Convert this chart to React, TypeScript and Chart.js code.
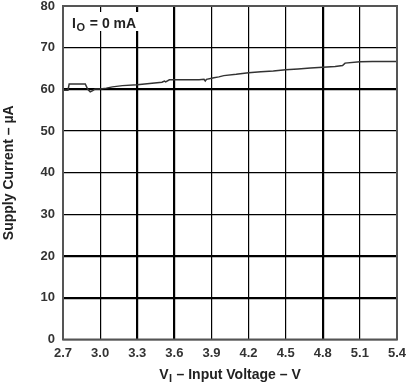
import React, { useEffect, useRef } from "react";
import { Chart, registerables } from "chart.js";

Chart.register(...registerables);

const voltage = [
  2.70, 2.74, 2.75, 2.88, 2.90, 2.92, 2.94, 2.96, 3.00, 3.05, 3.10, 3.18, 3.30, 3.40, 3.50, 3.52, 3.53, 3.56,
  3.60, 3.70, 3.80, 3.84, 3.85, 3.86, 3.92, 3.96, 4.00, 4.10, 4.20, 4.30, 4.40, 4.50, 4.60, 4.70, 4.80,
  4.90, 4.96, 4.98, 5.10, 5.20, 5.40,
];
const supplyCurrent = [
  59.8, 59.8, 61.3, 61.3, 60.0, 59.4, 59.7, 60.1, 60.1, 60.3, 60.6, 60.9, 61.1, 61.4, 61.7, 62.0, 61.8, 62.3,
  62.3, 62.3, 62.3, 62.4, 62.0, 62.4, 62.8, 63.0, 63.3, 63.6, 64.0, 64.2, 64.4, 64.7, 64.9, 65.1, 65.3,
  65.5, 65.7, 66.3, 66.6, 66.7, 66.7,
];
const xTicks = [2.7, 3.0, 3.3, 3.6, 3.9, 4.2, 4.5, 4.8, 5.1, 5.4];
const yTicks = [0, 10, 20, 30, 40, 50, 60, 70, 80];
const thickX = [3.3, 3.6, 4.8];
const thickY = [10, 20, 60];

const FONT = "'Liberation Sans', Arial, sans-serif";

const overlay = {
  id: "overlay",
  afterDraw(chart: any) {
    const { ctx, chartArea: a } = chart;
    ctx.save();
    // border
    ctx.strokeStyle = "#555555";
    ctx.lineWidth = 2;
    ctx.strokeRect(a.left, a.top, a.right - a.left, a.bottom - a.top);
    // legend box
    ctx.fillStyle = "#ffffff";
    ctx.fillRect(a.left + 2, a.top + 6, 77, 19);
    ctx.fillStyle = "#222222";
    ctx.textBaseline = "alphabetic";
    ctx.textAlign = "left";
    let x = a.left + 9;
    const base = a.top + 22;
    ctx.font = `bold 14px ${FONT}`;
    ctx.fillText("I", x, base);
    x += ctx.measureText("I").width + 0.5;
    ctx.font = `bold 11px ${FONT}`;
    ctx.fillText("O", x, base + 3);
    x += ctx.measureText("O").width + 1;
    ctx.font = `bold 14px ${FONT}`;
    ctx.fillText(" = 0 mA", x, base);

    // x title
    const cx = (a.left + a.right) / 2;
    const ty = 379;
    const p1 = "V";
    const p3 = " \u2013 Input Voltage \u2013 V";
    ctx.font = `bold 11px ${FONT}`;
    const w2 = ctx.measureText("I").width;
    ctx.font = `bold 14px ${FONT}`;
    const w1 = ctx.measureText(p1).width;
    const w3 = ctx.measureText(p3).width;
    let sx = cx - (w1 + w2 + w3 + 1) / 2;
    ctx.fillText(p1, sx, ty);
    sx += w1 + 0.5;
    ctx.font = `bold 11px ${FONT}`;
    ctx.fillText("I", sx, ty + 3);
    sx += w2 + 0.5;
    ctx.font = `bold 14px ${FONT}`;
    ctx.fillText(p3, sx, ty);

    // y title
    ctx.translate(13, (a.top + a.bottom) / 2);
    ctx.rotate(-Math.PI / 2);
    ctx.textAlign = "center";
    ctx.font = `bold 14px ${FONT}`;
    ctx.fillText("Supply Current \u2013 \u00b5A", 0, 0);
    ctx.restore();
  },
};

export default function App() {
  const ref = useRef<HTMLCanvasElement>(null);
  useEffect(() => {
    const chart = new Chart(ref.current!, {
      type: "line",
      data: {
        datasets: [
          {
            data: voltage.map((v, i) => ({ x: v, y: supplyCurrent[i] })),
            borderColor: "#333333",
            borderWidth: 1.5,
            pointRadius: 0,
            tension: 0,
            fill: false,
          },
        ],
      },
      options: {
        animation: false,
        responsive: false,
        maintainAspectRatio: false,
        layout: { padding: { left: 0, right: 9, top: 6, bottom: 0 } },
        plugins: { legend: { display: false }, tooltip: { enabled: false } },
        scales: {
          x: {
            type: "linear",
            min: 2.7,
            max: 5.4,
            afterBuildTicks: (s: any) => {
              s.ticks = xTicks.map((v) => ({ value: v }));
            },
            afterFit: (s: any) => {
              s.height = 43.5;
              s.paddingLeft = 0;
              s.paddingRight = 0;
            },
            ticks: {
              callback: (v: any) => Number(v).toFixed(1),
              font: { family: FONT, size: 13, weight: "bold" },
              color: "#333333",
              padding: 6,
              maxRotation: 0,
              autoSkip: false,
            },
            grid: {
              color: "#000000",
              lineWidth: (c: any) => (thickX.some((t) => Math.abs(t - c.tick?.value) < 1e-6) ? 2.2 : 1.2),
              drawTicks: false,
            },
            border: { display: false },
          },
          y: {
            min: 0,
            max: 80,
            afterBuildTicks: (s: any) => {
              s.ticks = yTicks.map((v) => ({ value: v }));
            },
            afterFit: (s: any) => {
              s.width = 63;
              s.paddingTop = 0;
              s.paddingBottom = 0;
            },
            ticks: {
              font: { family: FONT, size: 13, weight: "bold" },
              color: "#333333",
              padding: 8,
            },
            grid: {
              color: "#000000",
              lineWidth: (c: any) => (thickY.includes(c.tick?.value) ? 2.2 : 1.2),
              drawTicks: false,
            },
            border: { display: false },
          },
        },
      },
      plugins: [overlay],
    } as any);
    return () => chart.destroy();
  }, []);
  return (
    <div style={{ position: "fixed", left: 0, top: 0, width: 406, height: 383, background: "#fff" }}>
      <canvas ref={ref} width={406} height={383} style={{ display: "block" }} />
    </div>
  );
}
